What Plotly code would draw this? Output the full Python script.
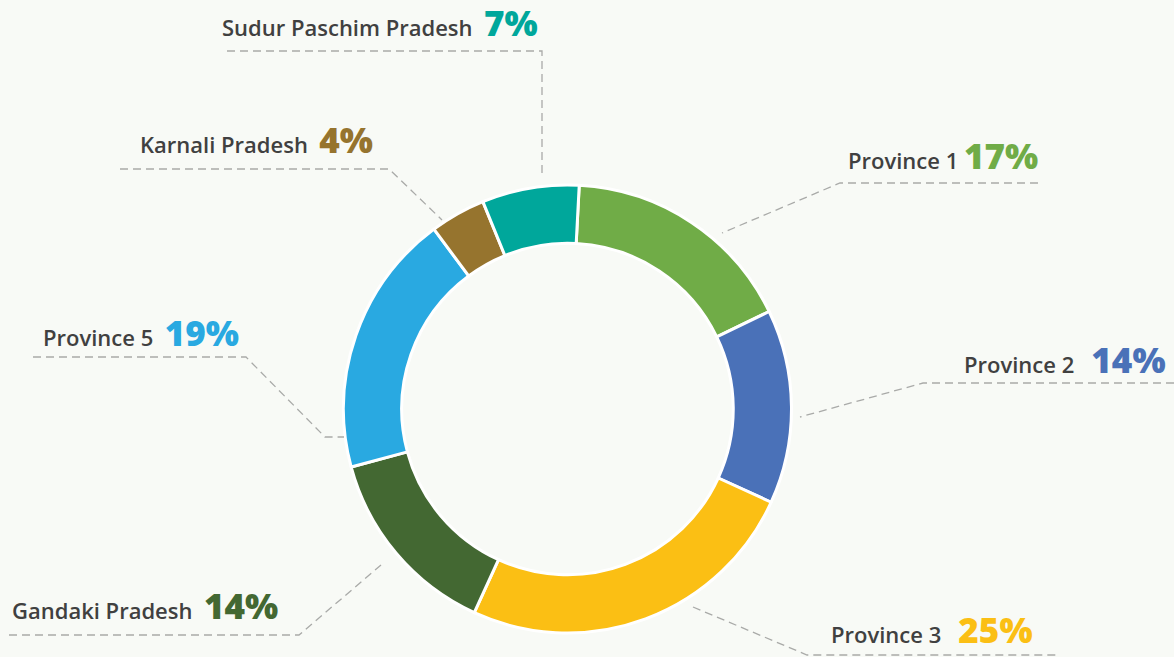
import plotly.graph_objects as go

# Share of total by province (clockwise from 12 o'clock)
regions = ['Province 1', 'Province 2', 'Province 3', 'Gandaki Pradesh',
           'Province 5', 'Karnali Pradesh', 'Sudur Paschim Pradesh']
shares = [17, 14, 25, 14, 19, 4, 7]
slice_colors = ['#70ac47', '#4a71b8', '#fbbf14', '#436832',
                '#29a9e1', '#96742e', '#00a79b']

W, H = 1174, 657
BG = '#f8faf6'

# label anchor (left x, text baseline y) and leader polyline, in pixels
label_pos = {
    'Province 1': (846, 170),
    'Province 2': (962, 374),
    'Province 3': (829, 644),
    'Gandaki Pradesh': (10, 620),
    'Province 5': (41, 347),
    'Karnali Pradesh': (138, 154),
    'Sudur Paschim Pradesh': (220, 37),
}
pct_gap = {
    'Province 1': ' ', 'Province 2': '   ', 'Province 3': '   ',
    'Gandaki Pradesh': '  ', 'Province 5': '  ', 'Karnali Pradesh': '  ',
    'Sudur Paschim Pradesh': '  ',
}
leaders = {
    'Province 1': [(1038, 183), (840, 183), (722, 233)],
    'Province 2': [(1174, 383), (923, 383), (800, 417)],
    'Province 3': [(693, 607), (807, 655), (1060, 655)],
    'Gandaki Pradesh': [(9, 635), (299, 635), (381, 565)],
    'Province 5': [(33, 357), (246, 357), (325, 437), (344, 437)],
    'Karnali Pradesh': [(120, 169), (389, 169), (442, 220)],
    'Sudur Paschim Pradesh': [(227, 51), (542, 51), (542, 176)],
}

cx, cy, R = 567.5, 409, 224

fig = go.Figure()
fig.add_trace(go.Pie(
    labels=regions,
    values=shares,
    sort=False,
    direction='clockwise',
    rotation=3,
    hole=0.74,
    marker=dict(colors=slice_colors, line=dict(color='white', width=3)),
    textinfo='none',
    hoverinfo='label+percent',
    showlegend=False,
    domain=dict(x=[(cx - R) / W, (cx + R) / W],
                y=[(H - cy - R) / H, (H - cy + R) / H]),
))

for name, pts in leaders.items():
    path = 'M ' + ' L '.join(f'{x},{y}' for x, y in pts)
    fig.add_shape(type='path', path=path, xref='x', yref='y',
                  line=dict(color='#a9aaa8', width=1.3, dash='8px,5px'))

for name, share, col in zip(regions, shares, slice_colors):
    x, y = label_pos[name]
    fig.add_annotation(
        x=x, y=y + 11, xref='x', yref='y', xanchor='left', yanchor='bottom',
        showarrow=False,
        text=(f'{name}{pct_gap[name]}'
              f"<span style='font-size:35px;font-weight:800;color:{col}'>{share}%</span>"),
        font=dict(family='Open Sans', size=22, color='#404040', weight=600),
    )

fig.update_xaxes(range=[0, W], visible=False, fixedrange=True)
fig.update_yaxes(range=[H, 0], visible=False, fixedrange=True)
fig.update_layout(
    width=W, height=H,
    margin=dict(l=0, r=0, t=0, b=0),
    paper_bgcolor=BG, plot_bgcolor=BG,
)

fig.write_html('out.html', config={'displayModeBar': False},
               post_script="document.body.style.margin='0';")
